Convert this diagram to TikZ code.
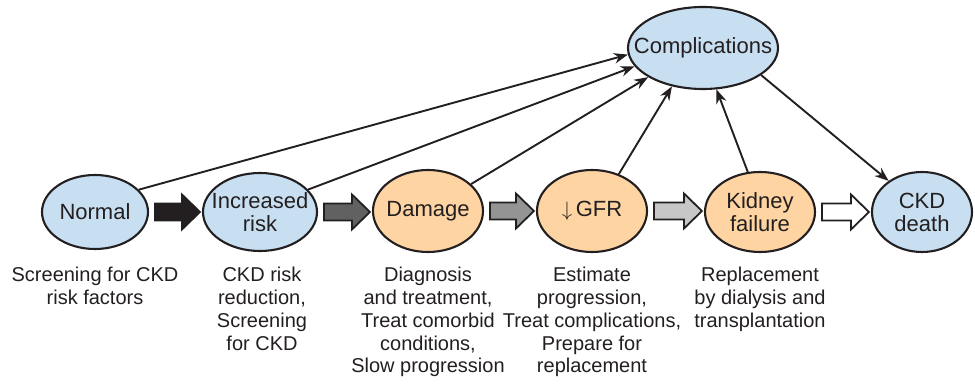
\documentclass[tikz,border=0pt]{standalone}
\usepackage{fontspec}
\setmainfont{Liberation Sans}
\usetikzlibrary{shapes.geometric,calc,arrows.meta}
\definecolor{txt}{HTML}{231F20}
\definecolor{ellblue}{RGB}{200,223,242}
\definecolor{ellorange}{RGB}{253,212,162}
\newcommand\stagearrow[3]{%
  \draw[blockarrow,fill=#3] let \p1=($(#1.east)+(6,0)$), \p2=($(#2.west)+(-2,0)$) in
    (\x1,\y1+8.5pt) -- (\x2-18pt,\y1+8.5pt) -- (\x2-18pt,\y1+17.5pt) -- (\x2,\y1)
    -- (\x2-18pt,\y1-17.5pt) -- (\x2-18pt,\y1-8.5pt) -- (\x1,\y1-8.5pt) -- cycle;}
\begin{document}
\begin{tikzpicture}[x=1pt,y=-1pt,
  stage/.style={ellipse, draw=txt, line width=2.1pt, inner sep=0pt},
  bluestage/.style={stage, fill=ellblue},
  orangestage/.style={stage, fill=ellorange},
  lbl/.style={font=\fontsize{22}{23}\selectfont, text=txt, align=center, inner sep=0pt},
  note/.style={font=\fontsize{20}{22.8}\selectfont, text=txt, align=center, anchor=north, inner sep=0pt},
  link/.style={draw=txt, line width=1.9pt, -{Stealth[length=14pt,width=10.5pt]}},
  blockarrow/.style={draw=txt, line width=1.8pt, line join=miter}
]
\useasboundingbox (0,0) rectangle (975,387);

\node[bluestage, minimum width=106pt, minimum height=74pt, label={[lbl]center:Normal}] (normal) at (95,212) {};
\node[bluestage, minimum width=114pt, minimum height=78pt, label={[lbl]center:Increased\\risk}] (incr) at (260,212) {};
\node[orangestage, minimum width=110pt, minimum height=82pt, label={[lbl]center:Damage}] (damage) at (428,211) {};
\node[orangestage, minimum width=110pt, minimum height=82pt, label={[lbl]center:$\downarrow$\,GFR}] (gfr) at (592,211) {};
\node[orangestage, minimum width=110pt, minimum height=80pt, label={[lbl]center:Kidney\\failure}] (kidney) at (760,212) {};
\node[bluestage, minimum width=100pt, minimum height=80pt, label={[lbl]center:CKD\\death}] (death) at (922,212) {};
\node[bluestage, minimum width=150pt, minimum height=82pt, label={[lbl]center:Complications}] (compl) at (703,48) {};

\stagearrow{normal}{incr}{txt}
\stagearrow{incr}{damage}{black!62}
\stagearrow{damage}{gfr}{black!42}
\stagearrow{gfr}{kidney}{black!22}
\stagearrow{kidney}{death}{white}

\draw[link] (normal.27) -- (compl.185);
\draw[link] (incr.25) -- (compl.195);
\draw[link] (damage.32) -- (compl.208);
\draw[link] (gfr.54) -- (compl.231);
\draw[link] (kidney.107) -- (compl.288);
\draw[link] (compl.335) -- (death.137);

\node[note] (note1) at (95,267) {Screening for CKD\\risk factors};
\node[note] (note2) at (262,267) {CKD risk\\reduction,\\Screening\\for CKD};
\node[note] (note3) at (428,267) {Diagnosis\\and treatment,\\Treat comorbid\\conditions,\\Slow progression};
\node[note] (note4) at (592,267) {Estimate\\progression,\\Treat complications,\\Prepare for\\replacement};
\node[note] (note5) at (760,267) {Replacement\\by dialysis and\\transplantation};
\end{tikzpicture}
\end{document}
